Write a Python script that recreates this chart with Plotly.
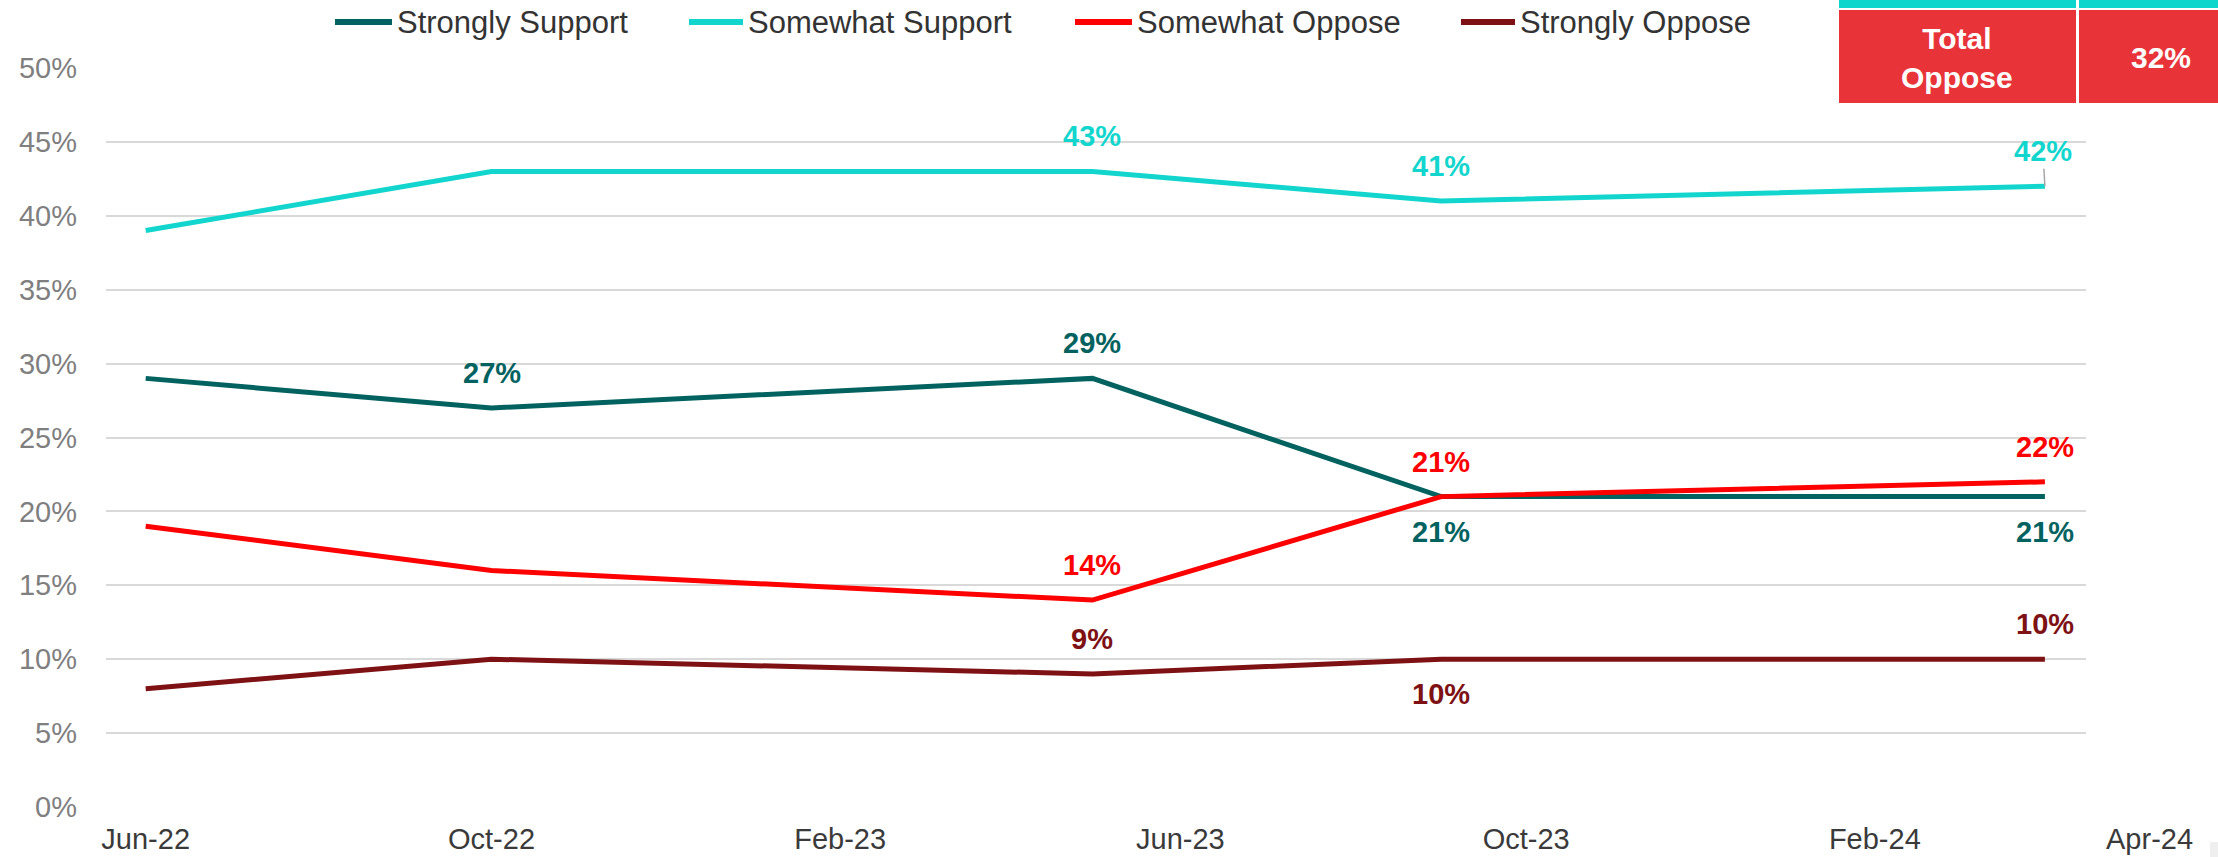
import plotly.graph_objects as go

# Survey waves and results (% of respondents)
dates = ["2022-06-01", "2022-10-01", "2023-05-01", "2023-09-01", "2024-04-01"]
strongly_support = [29, 27, 29, 21, 21]
somewhat_support = [39, 43, 43, 41, 42]
somewhat_oppose = [19, 16, 14, 21, 22]
strongly_oppose = [8, 10, 9, 10, 10]

series_names = ["Strongly Support", "Somewhat Support", "Somewhat Oppose", "Strongly Oppose"]
series_values = [strongly_support, somewhat_support, somewhat_oppose, strongly_oppose]
series_colors = ["#02625F", "#12D6CD", "#FF0000", "#7E1113"]

# Data-label placement per point: 1 = above, -1 = below, 0 = no label
label_pos = [
    [0, 1, 1, -1, -1],
    [0, 0, 1, 1, 1],
    [0, 0, 1, 1, 1],
    [0, 0, 1, -1, 1],
]

tick_dates = ["2022-06-01", "2022-10-01", "2023-02-01", "2023-06-01", "2023-10-01", "2024-02-01"]
tick_labels = ["Jun-22", "Oct-22", "Feb-23", "Jun-23", "Oct-23", "Feb-24"]
extra_tick_label = "Apr-24"

y_ticks = [0, 5, 10, 15, 20, 25, 30, 35, 40, 45, 50]

W, H = 2218, 857
ML, MR, MT, MB = 106, 132, 68, 50
PW, PH = W - ML - MR, H - MT - MB

FONT = "Arial, Liberation Sans, sans-serif"


def px_x(p):
    return (p - ML) / PW


def px_y(p):
    return (H - MB - p) / PH


fig = go.Figure()

for name, vals, color in zip(series_names, series_values, series_colors):
    fig.add_trace(go.Scatter(
        x=dates, y=vals, mode="lines", name=name,
        line=dict(color=color, width=5),
        showlegend=False, hoverinfo="skip",
    ))

annotations = []
for vals, color, pos in zip(series_values, series_colors, label_pos):
    for d, v, p in zip(dates, vals, pos):
        if p == 0:
            continue
        annotations.append(dict(
            x=d, y=v, xref="x", yref="y", text=f"<b>{v}%</b>",
            showarrow=False, yshift=35 * p,
            font=dict(family=FONT, size=29, color=color),
        ))

# Leader line for the last Somewhat Support label
for a in annotations:
    if a["x"] == dates[-1] and a["y"] == somewhat_support[-1] and a["font"]["color"] == series_colors[1]:
        a.update(showarrow=True, ax=-2, ay=-35, arrowhead=0, arrowwidth=1.5,
                 arrowcolor="#A6A6A6", standoff=0, yshift=0)

# Extra date label at the right end of the axis
annotations.append(dict(
    x=px_x(2149), y=px_y(839), xref="paper", yref="paper", text=extra_tick_label,
    showarrow=False, font=dict(family=FONT, size=29, color="#3A3A3A"),
    xanchor="center", yanchor="middle",
))

shapes = []

# Legend drawn as line samples plus text
legend_lines = [(335, 392), (689, 743), (1075, 1132), (1461, 1515)]
legend_y = 22
for (x0, x1), name, color in zip(legend_lines, series_names, series_colors):
    shapes.append(dict(
        type="line", xref="paper", yref="paper",
        x0=px_x(x0), x1=px_x(x1), y0=px_y(legend_y), y1=px_y(legend_y),
        line=dict(color=color, width=6),
    ))
    annotations.append(dict(
        x=px_x(x1 + 3), y=px_y(legend_y), xref="paper", yref="paper",
        text=name, showarrow=False, xanchor="left", yanchor="middle",
        font=dict(family=FONT, size=31, color="#333333"),
    ))

# Summary table in the top-right corner
total_oppose = somewhat_oppose[-1] + strongly_oppose[-1]
table_red = "#E83339"
table_teal = "#0FD6CD"
cells = [
    (1839, 2076, 0, 8, table_teal),
    (2079, 2218, 0, 8, table_teal),
    (1839, 2076, 10, 103, table_red),
    (2079, 2218, 10, 103, table_red),
]
for x0, x1, y0, y1, c in cells:
    shapes.append(dict(
        type="rect", xref="paper", yref="paper", layer="above",
        x0=px_x(x0), x1=px_x(x1), y0=px_y(y1), y1=px_y(y0),
        fillcolor=c, line=dict(width=0),
    ))
annotations.append(dict(
    x=px_x(1957), y=px_y(58), xref="paper", yref="paper",
    text="<b>Total<br>Oppose</b>", showarrow=False,
    font=dict(family=FONT, size=30, color="white"),
    xanchor="center", yanchor="middle",
))
annotations.append(dict(
    x=px_x(2161), y=px_y(58), xref="paper", yref="paper",
    text=f"<b>{total_oppose}%</b>", showarrow=False,
    font=dict(family=FONT, size=30, color="white"),
    xanchor="center", yanchor="middle",
))

# Small grey block at the bottom-right corner
shapes.append(dict(
    type="rect", xref="paper", yref="paper",
    x0=px_x(2210), x1=px_x(2218), y0=px_y(857), y1=px_y(842),
    fillcolor="#EFEFEF", line=dict(width=0),
))

fig.update_layout(
    width=W, height=H,
    margin=dict(l=ML, r=MR, t=MT, b=MB, pad=0),
    paper_bgcolor="white", plot_bgcolor="white",
    showlegend=False,
    font=dict(family=FONT),
    annotations=annotations,
    shapes=shapes,
)

fig.update_xaxes(
    type="date",
    range=["2022-05-18", "2024-04-15 12:00"],
    tickvals=tick_dates, ticktext=tick_labels,
    tickfont=dict(family=FONT, size=29, color="#3A3A3A"),
    showgrid=False, zeroline=False, showline=False,
    ticks="", ticklabelstandoff=12, automargin=False,
)

fig.update_yaxes(
    range=[0, 50],
    tickvals=y_ticks, ticktext=[f"{v}%" for v in y_ticks],
    tickfont=dict(family=FONT, size=29, color="#7F7F7F"),
    showgrid=True, gridcolor="#D9D9D9", gridwidth=2,
    zeroline=False, showline=False,
    ticks="", ticklabelstandoff=28, automargin=False,
)

fig.write_html("out.html")
